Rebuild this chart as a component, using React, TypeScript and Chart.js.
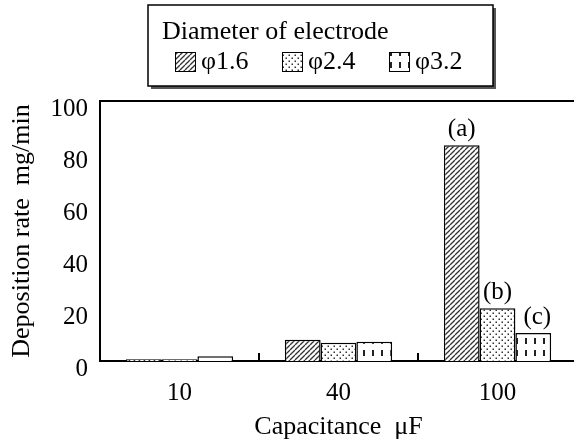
import React, { useEffect, useRef } from 'react';
import { Chart, registerables } from 'chart.js';

Chart.register(...registerables);

// ---- data ----
const categories = ['10', '40', '100'];
const seriesNames = ['φ1.6', 'φ2.4', 'φ3.2'];
const phi16 = [0.7, 8.2, 83];
const phi24 = [0.7, 7.0, 20.3];
const phi32 = [1.8, 7.4, 10.8];
const noteLabels = ['(a)', '(b)', '(c)'];
const noteCategoryIndex = 2;
const yMin = 0;
const yMax = 100;
const yStep = 20;
const legendTitle = 'Diameter of electrode';
const xTitle = 'Capacitance  μF';
const yTitle = 'Deposition rate  mg/min';

const FONT = "'Liberation Serif', 'Times New Roman', serif";

function makePattern(kind: number): CanvasPattern | string {
  const c = document.createElement('canvas');
  const ctx = c.getContext('2d');
  if (!ctx) return '#888';
  if (kind === 0) {
    const s = 5;
    c.width = s; c.height = s;
    ctx.fillStyle = '#fff';
    ctx.fillRect(0, 0, s, s);
    ctx.strokeStyle = '#333';
    ctx.lineWidth = 1.3;
    for (const k of [-s, 0, s]) {
      ctx.beginPath();
      ctx.moveTo(k, s);
      ctx.lineTo(k + s, 0);
      ctx.stroke();
    }
  } else if (kind === 1) {
    const s = 6;
    c.width = s; c.height = s;
    ctx.fillStyle = '#fff';
    ctx.fillRect(0, 0, s, s);
    ctx.fillStyle = '#333';
    ctx.fillRect(0.5, 0.5, 1.5, 1.5);
    ctx.fillRect(3.5, 3.5, 1.5, 1.5);
  } else {
    c.width = 9; c.height = 12;
    ctx.fillStyle = '#fff';
    ctx.fillRect(0, 0, 9, 12);
    ctx.fillStyle = '#222';
    ctx.fillRect(3, 2, 2, 6);
  }
  const p = ctx.createPattern(c, 'repeat');
  return p || '#888';
}

export default function App() {
  const ref = useRef<HTMLCanvasElement | null>(null);

  useEffect(() => {
    const canvas = ref.current;
    if (!canvas) return;
    Chart.defaults.font.family = FONT;
    Chart.defaults.color = '#000';
    const patterns = [makePattern(0), makePattern(1), makePattern(2)];
    const seriesValues = [phi16, phi24, phi32];

    const decor = {
      id: 'decor',
      afterDraw(chart: any) {
        const { ctx, chartArea } = chart;
        const xs = chart.scales.x;
        ctx.save();
        // top frame line
        ctx.strokeStyle = '#000';
        ctx.lineWidth = 2;
        ctx.beginPath();
        ctx.moveTo(chartArea.left - 1, chartArea.top);
        ctx.lineTo(chart.width, chartArea.top);
        ctx.stroke();
        // small inner ticks at category boundaries
        for (let i = 1; i < categories.length; i++) {
          const x = Math.round((xs.getPixelForValue(i - 1) + xs.getPixelForValue(i)) / 2);
          ctx.beginPath();
          ctx.moveTo(x, chartArea.bottom);
          ctx.lineTo(x, chartArea.bottom - 8);
          ctx.stroke();
        }
        // notes above bars
        ctx.fillStyle = '#000';
        ctx.font = `25px ${FONT}`;
        ctx.textAlign = 'center';
        ctx.textBaseline = 'bottom';
        noteLabels.forEach((lab, di) => {
          const meta = chart.getDatasetMeta(di);
          const el = meta.data[noteCategoryIndex];
          if (!el) return;
          ctx.fillText(lab, el.x + (di === 2 ? 4 : 0), el.y - 3);
        });
        // legend box
        const bx = 148, by = 5, bw = 345, bh = 81;
        ctx.fillStyle = '#555';
        ctx.fillRect(bx + 3, by + 3, bw, bh);
        ctx.fillStyle = '#fff';
        ctx.fillRect(bx, by, bw, bh);
        ctx.strokeStyle = '#000';
        ctx.lineWidth = 1.5;
        ctx.strokeRect(bx, by, bw, bh);
        ctx.fillStyle = '#000';
        ctx.font = `26px ${FONT}`;
        ctx.textAlign = 'left';
        ctx.textBaseline = 'middle';
        ctx.fillText(legendTitle, 162, 32);
        const swX = [175, 282, 389];
        seriesNames.forEach((name, i) => {
          ctx.fillStyle = patterns[i] as any;
          ctx.fillRect(swX[i], 52, 20, 19);
          ctx.strokeStyle = '#000';
          ctx.lineWidth = 1;
          ctx.strokeRect(swX[i] + 0.5, 52.5, 20, 19);
          ctx.fillStyle = '#000';
          ctx.fillText(name, swX[i] + 26, 62);
        });
        ctx.restore();
      },
    };

    const chart = new Chart(canvas, {
      type: 'bar',
      data: {
        labels: categories,
        datasets: seriesNames.map((name, i) => ({
          label: name,
          data: seriesValues[i],
          backgroundColor: patterns[i] as any,
          borderColor: '#000',
          borderWidth: 1.5,
          categoryPercentage: 0.675,
          barPercentage: 1.0,
        })),
      },
      options: {
        responsive: false,
        animation: false,
        devicePixelRatio: 1,
        layout: { padding: { top: 101, right: 23, left: 0, bottom: 0 } },
        plugins: {
          legend: { display: false },
          tooltip: { enabled: false },
        },
        scales: {
          x: {
            type: 'category',
            grid: { display: false, drawTicks: false },
            border: { display: true, color: '#000', width: 2 },
            ticks: { padding: 17, color: '#000', font: { size: 25, family: FONT } },
            title: { display: true, text: xTitle, color: '#000', font: { size: 26, family: FONT }, padding: 0 },
            afterFit: (s: any) => { s.height = 82; },
          },
          y: {
            min: yMin,
            max: yMax,
            grid: { display: false, drawTicks: false },
            border: { display: true, color: '#000', width: 2 },
            ticks: { stepSize: yStep, padding: 12, labelOffset: 8, color: '#000', font: { size: 25, family: FONT } },
            title: { display: true, text: yTitle, color: '#000', font: { size: 26, family: FONT }, padding: { top: 7, bottom: 0 } },
            afterFit: (s: any) => { s.width = 100; },
          },
        },
      } as any,
      plugins: [decor],
    });
    return () => chart.destroy();
  }, []);

  return (
    <div style={{ position: 'fixed', left: 0, top: 0, width: 574, height: 443, overflow: 'hidden', background: '#fff' }}>
      <canvas ref={ref} width={600} height={443} style={{ display: 'block', width: 600, height: 443 }} />
    </div>
  );
}
